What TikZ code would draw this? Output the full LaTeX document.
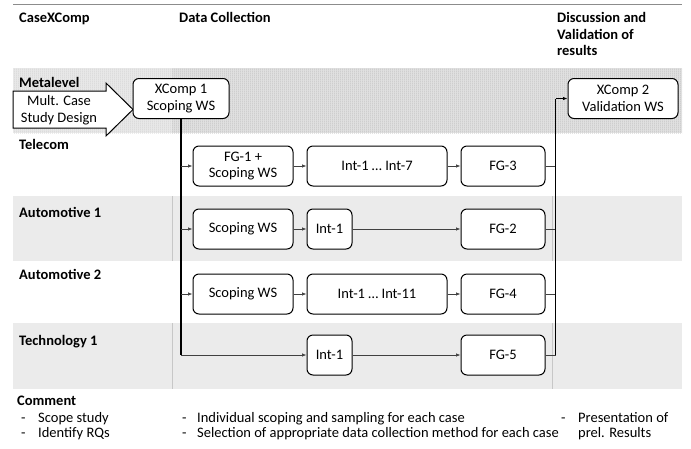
\documentclass[tikz,border=0pt]{standalone}
\usepackage{fontspec}
\setmainfont{Carlito}
\usetikzlibrary{arrows.meta,calc,patterns}
\pgfdeclarepatternformonly{finelines}{\pgfpointorigin}{\pgfqpoint{2pt}{2pt}}{\pgfqpoint{2pt}{2pt}}{%
  \pgfpathrectangle{\pgfpointorigin}{\pgfqpoint{0.7pt}{2pt}}\pgfusepath{fill}}
\begin{document}
\begin{tikzpicture}[x=1pt,y=-1pt,
  every node/.style={font=\fontsize{14.5}{16.5}\selectfont, inner sep=0pt},
  box/.style={draw=black, line width=1pt, rounded corners=6pt, fill=white, align=center, minimum height=40pt},
  hdr/.style={font=\fontsize{14.5}{16.5}\selectfont\bfseries, anchor=base west, align=left},
  lst/.style={font=\fontsize{14.5}{15.5}\selectfont, anchor=base west},
  conn/.style={draw=black!75, line width=0.7pt},
  arr/.style={conn, -{Latex[length=4.5pt,width=3.5pt]}},
  trunk/.style={draw=black, line width=1.3pt},
  band/.style={fill=black!8},
  sep/.style={draw=black!22, line width=0.6pt},
]
\useasboundingbox (0,0) rectangle (691,448);
\fill[white] (0,0) rectangle (691,448);
% header rule
\draw[black!45, line width=1pt] (13,4) -- (682,4);
% metalevel band
\fill[black!9] (13,68) rectangle (172,133);
\fill[pattern=finelines, pattern color=black!22] (13,68) rectangle (172,133);
\fill[black!12] (172,68) rectangle (682,133);
\fill[pattern=finelines, pattern color=black!32] (172,68) rectangle (682,133);
% gray rows
\fill[band] (13,196) rectangle (682,261);
\fill[band] (13,323) rectangle (682,389);
\draw[sep] (172,196) -- (172,261);
\draw[sep] (552,196) -- (552,261);
\draw[sep] (172,323) -- (172,389);
\draw[sep] (552,323) -- (552,389);

% headers
\node[hdr] (hcase) at (19,22) {CaseXComp};
\node[hdr] (hdata) at (179,22) {Data Collection};
\node[hdr, anchor=north west] (hdisc) at (557,12.5) {Discussion and\\Validation of\\results};

% row labels
\node[hdr] (lmeta) at (19,87) {Metalevel};
\node[hdr] (ltel) at (19,149) {Telecom};
\node[hdr] (lau1) at (19,217) {Automotive 1};
\node[hdr] (lau2) at (19,279) {Automotive 2};
\node[hdr] (ltec) at (19,345) {Technology 1};

% big arrow
\draw[black, line width=1pt, fill=white] (13,91) -- (106,91) -- (106,83) -- (133,109.5) -- (106,136) -- (106,128) -- (13,128) -- cycle;
\node[align=center] (msd) at (59,110) {Mult. Case\\Study Design};

% boxes
\node[box, minimum width=96pt] (x1) at (181,98.5) {XComp 1\\Scoping WS};
\node[box, minimum width=110pt] (x2) at (623,98.5) {XComp 2\\Validation WS};

\node[box, minimum width=100pt] (fg1) at (243,166) {FG-1 +\\Scoping WS};
\node[box, minimum width=140pt] (i17) at (377,166) {Int-1 \dots{} Int-7};
\node[box, minimum width=84pt] (fg3) at (503,166) {FG-3};

\node[box, minimum width=100pt] (sws1) at (243,229) {Scoping WS};
\node[box, minimum width=45pt] (i1a) at (329.5,229) {Int-1};
\node[box, minimum width=84pt] (fg2) at (503,229) {FG-2};

\node[box, minimum width=100pt] (sws2) at (243,294) {Scoping WS};
\node[box, minimum width=140pt] (i111) at (377,294) {Int-1 \dots{} Int-11};
\node[box, minimum width=84pt] (fg4) at (503,294) {FG-4};

\node[box, minimum width=45pt] (i1t) at (329.5,355) {Int-1};
\node[box, minimum width=84pt] (fg5) at (503,355) {FG-5};

% left trunk
\coordinate (tb) at (x1.south |- i1t.west);
\draw[trunk] (x1.south) -- (tb);
\draw[arr] (tb) -- (i1t.west);
\draw[arr] (x1.south |- fg1.west) -- (fg1.west);
\draw[arr] (x1.south |- sws1.west) -- (sws1.west);
\draw[arr] (x1.south |- sws2.west) -- (sws2.west);

% row chains
\draw[arr] (fg1) -- (i17);
\draw[arr] (i17) -- (fg3);
\draw[arr] (sws1) -- (i1a);
\draw[arr] (i1a) -- (fg2);
\draw[arr] (sws2) -- (i111);
\draw[arr] (i111) -- (fg4);
\draw[arr] (i1t) -- (fg5);

% right trunk
\coordinate (rv) at ($(x2.west)+(-12,0)$);
\coordinate (rb) at (rv |- fg5.east);
\draw[conn] (fg3.east) -- (rv |- fg3.east);
\draw[conn] (fg2.east) -- (rv |- fg2.east);
\draw[conn] (fg4.east) -- (rv |- fg4.east);
\draw[conn] (fg5.east) -- (rb);
\draw[trunk] (rb) -- (rv);
\draw[trunk, -{Latex[length=4.5pt,width=3.5pt]}] (rv) -- (x2.west);

% comments
\node[hdr] (comment) at (17,405) {Comment};
\node[lst] (c1) at (21,422) {\begin{tabular}[t]{@{}p{17pt}@{}l@{}}-&Scope study\\-&Identify RQs\end{tabular}};
\node[lst] (c2) at (182,422) {\begin{tabular}[t]{@{}p{15pt}@{}l@{}}-&Individual scoping and sampling for each case\\-&Selection of appropriate data collection method for each case\end{tabular}};
\node[lst] (c3) at (561,422) {\begin{tabular}[t]{@{}p{17pt}@{}l@{}}-&Presentation of\\&prel. Results\end{tabular}};
\end{tikzpicture}
\end{document}
